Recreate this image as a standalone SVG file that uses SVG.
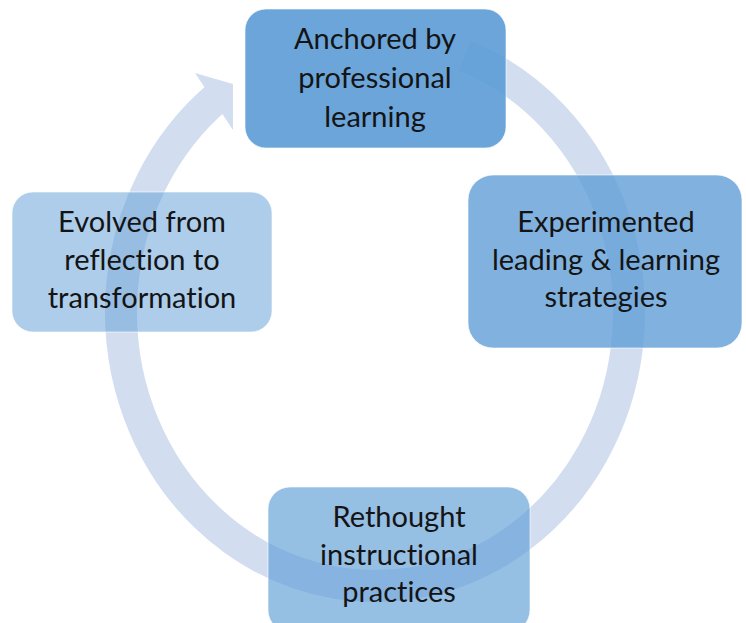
<svg xmlns="http://www.w3.org/2000/svg" width="746" height="623" viewBox="0 0 746 623">
  <style>
    .ring { fill: none; stroke: #D2DEF0; stroke-width: 32; stroke-linecap: butt; }
    .head { fill: #D2DEF0; }
    .box { fill: #5B9BD5; stroke: #ffffff; stroke-width: 1; stroke-opacity: 0.6; }
    .label { font-family: Lato, "Open Sans", "Liberation Sans", sans-serif; font-size: 29px; fill: #141414; text-anchor: middle; font-variant-ligatures: none; font-feature-settings: "liga" 0, "dlig" 0; }
  </style>

  <rect x="0" y="0" width="746" height="623" fill="#ffffff"/>

  <!-- cycle ring: clockwise elliptical band ending in an arrowhead at the top-left -->
  <g id="connectors">
    <path class="ring" d="M 464.8 55.7 A 254 274 0 1 1 219.0 95.8"/>
    <polygon class="head" points="195,73 233,84 233,130"/>
  </g>

  <g id="node-anchored">
    <rect class="box" x="245" y="9" width="261" height="139" rx="21" ry="21" fill-opacity="0.9"/>
    <text class="label" x="375" y="49">Anchored by</text>
    <text class="label" x="375" y="88">professional</text>
    <text class="label" x="375" y="127">learning</text>
  </g>

  <g id="node-experimented">
    <rect class="box" x="468" y="175" width="274" height="173" rx="25" ry="25" fill-opacity="0.77"/>
    <text class="label" x="606" y="232">Experimented</text>
    <text class="label" x="606" y="270">leading &amp; learning</text>
    <text class="label" x="606" y="307">strategies</text>
  </g>

  <g id="node-rethought">
    <rect class="box" x="268" y="487" width="262" height="145" rx="22" ry="22" fill-opacity="0.64"/>
    <text class="label" x="399" y="527">Rethought</text>
    <text class="label" x="399" y="565">instructional</text>
    <text class="label" x="399" y="602">practices</text>
  </g>

  <g id="node-evolved">
    <rect class="box" x="12" y="192" width="260" height="140" rx="21" ry="21" fill-opacity="0.5"/>
    <text class="label" x="142" y="232">Evolved from</text>
    <text class="label" x="142" y="270">reflection to</text>
    <text class="label" x="142" y="308">transformation</text>
  </g>
</svg>
